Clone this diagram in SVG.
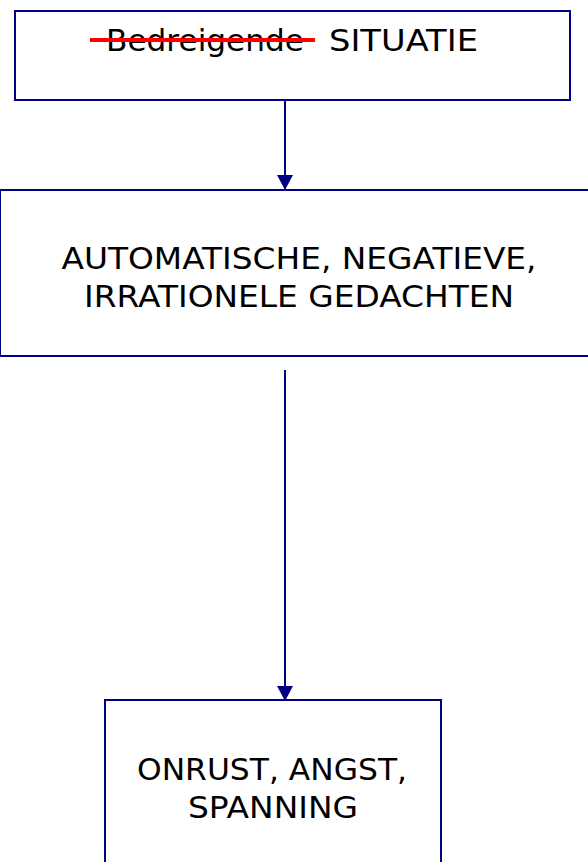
<svg xmlns="http://www.w3.org/2000/svg" width="588" height="862" viewBox="0 0 588 862">
<style>
.box{fill:#fff;stroke:#000080;stroke-width:2}
.lbl{font-family:"DejaVu Sans","Verdana",sans-serif;font-size:31px;fill:#000}
.conn{stroke:#000080;stroke-width:2;fill:none}
</style>
<defs>
<marker id="arr" viewBox="0 0 15 16" refX="15" refY="8" markerWidth="15" markerHeight="16" markerUnits="userSpaceOnUse" orient="auto">
<path d="M0,0 L15,8 L0,16 Z" fill="#000080"/>
</marker>
</defs>
<rect width="588" height="862" fill="#fff"/>
<g id="node-situatie">
<rect class="box" x="15" y="11" width="555" height="89"/>
<text class="lbl" y="51"><tspan x="106" textLength="198" lengthAdjust="spacingAndGlyphs">Bedreigende</tspan><tspan x="329" textLength="149" lengthAdjust="spacingAndGlyphs">SITUATIE</tspan></text>
<line x1="90" y1="40" x2="315" y2="40" stroke="#ff0000" stroke-width="4"/>
</g>
<g id="node-gedachten">
<rect class="box" x="0" y="190" width="600" height="166"/>
<text class="lbl" text-anchor="middle"><tspan x="299" y="269" textLength="475" lengthAdjust="spacingAndGlyphs">AUTOMATISCHE, NEGATIEVE,</tspan><tspan x="299" y="307" textLength="430" lengthAdjust="spacingAndGlyphs">IRRATIONELE GEDACHTEN</tspan></text>
</g>
<g id="node-onrust">
<rect class="box" x="105" y="700" width="336" height="180"/>
<text class="lbl" text-anchor="middle"><tspan x="272" y="780" textLength="270" lengthAdjust="spacingAndGlyphs">ONRUST, ANGST,</tspan><tspan x="273" y="818" textLength="170" lengthAdjust="spacingAndGlyphs">SPANNING</tspan></text>
</g>
<g id="connectors">
<line class="conn" x1="285" y1="100" x2="285" y2="190" marker-end="url(#arr)"/>
<line class="conn" x1="285" y1="370" x2="285" y2="701" marker-end="url(#arr)"/>
</g>
</svg>
